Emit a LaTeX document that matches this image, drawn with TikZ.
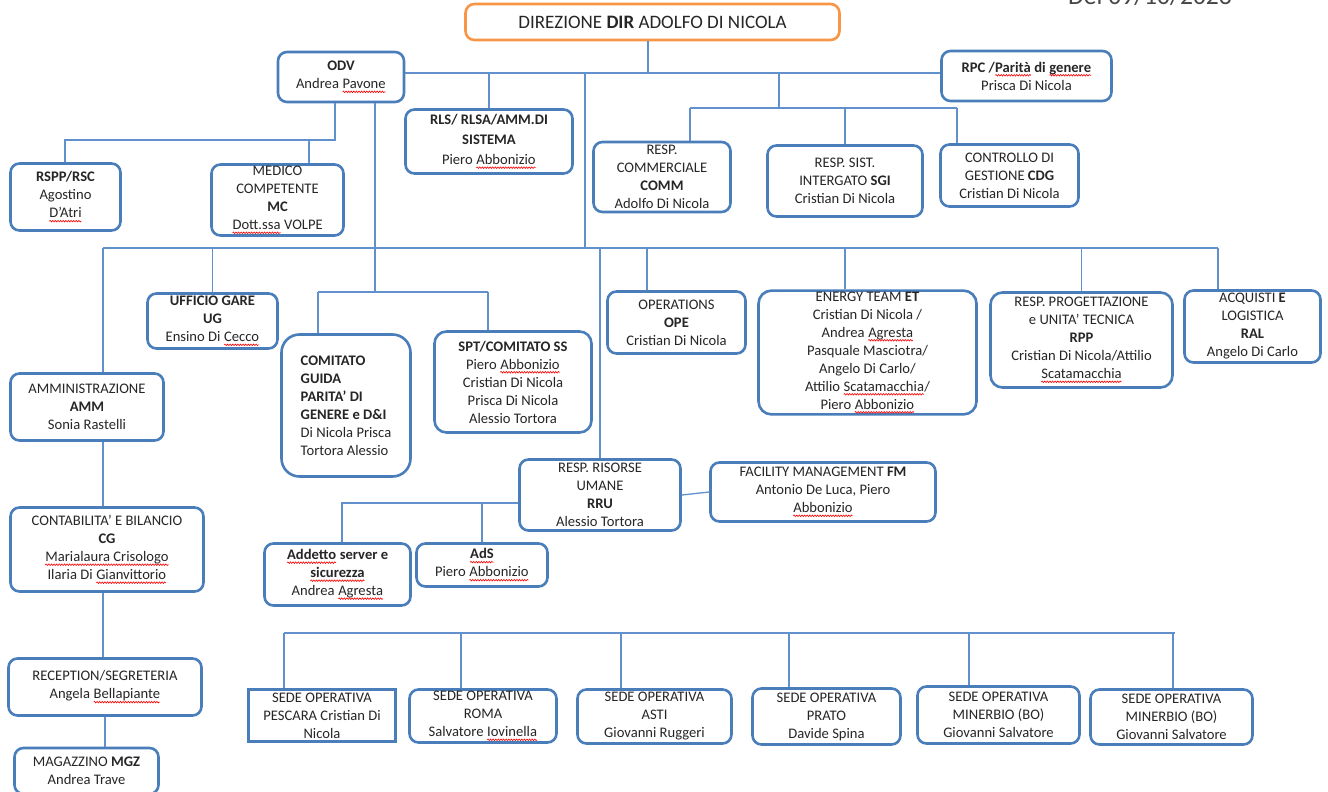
\documentclass[tikz,border=0pt]{standalone}
\usepackage{fontspec}
\setmainfont{Carlito}
\usepackage{tikz}
\usetikzlibrary{positioning, decorations.pathmorphing}

\definecolor{boxblue}{HTML}{4A7EBB}
\definecolor{linkblue}{HTML}{6290CC}
\definecolor{dirorange}{HTML}{F79646}
\definecolor{txt}{HTML}{262626}
% red wavy spell-check underline
\newcommand\sq[1]{\tikz[baseline=(sqw.base), x=1pt, y=1pt]{%
    \node[draw=none, fill=none, shape=rectangle, inner sep=0pt, outer sep=0pt,
          minimum width=0pt, minimum height=0pt, anchor=base, text=txt] (sqw) {#1};%
    \draw[red, line width=0.6pt, sharp corners, decorate,
          decoration={snake, amplitude=0.8pt, segment length=2.6pt}]
        ([yshift=-3.2pt]sqw.base west) -- ([yshift=-3.2pt]sqw.base east);}}

\begin{document}
\begin{tikzpicture}[
    % GLOBAL CFG
    x=1pt, y=-1pt,
    font=\fontsize{14.6}{18}\selectfont,
    % Styles
    unit/.style={% For the organisation boxes
        rectangle,
        draw=boxblue,
        line width=2.6pt,
        rounded corners=9pt,
        fill=white,
        text=txt,
        align=center,
        inner sep=1pt,
        },
    sz/.style 2 args={% size of a box
        minimum width=#1pt,
        minimum height=#2pt,
        },
    head/.style={% For the direction box
        unit,
        draw=dirorange,
        font=\fontsize{19}{22}\selectfont,
        },
    link/.style={% For the connectors
        draw=linkblue,
        line width=1.3pt,
        },
    ]

    \useasboundingbox (0,0) rectangle (1328,792);

    % Date in the corner
    \node[anchor=base west, text=txt!85, font=\fontsize{25.6}{28}\selectfont, inner sep=0pt] (data) at (1068,5) {Del 09/10/2023};

    % Direction and staff
    \node [head, sz={374}{36}] (dir) at (652.5,22) {DIREZIONE \textbf{DIR} ADOLFO DI NICOLA};
    \node [unit, sz={126}{50}] (odv) at (341,77) {\textbf{ODV}\\Andrea \sq{Pavone}};
    \node [unit, sz={170}{50}] (rpc) at (1026.5,76) {\textbf{RPC /\sq{Parità} di \sq{genere}}\\Prisca Di Nicola};
    \node [unit, sz={167}{64}] (rls) at (489,141.5) {\textbf{RLS/ RLSA/AMM.DI}\\[2pt]\textbf{SISTEMA}\\[2pt]Piero \sq{Abbonizio}};

    % Under RPC
    \node [unit, sz={137}{70}] (comm) at (662,177) {RESP.\\COMMERCIALE\\\textbf{COMM}\\Adolfo Di Nicola};
    \node [unit, sz={155}{71}] (sgi) at (845,181) {RESP. SIST.\\INTERGATO \textbf{SGI}\\Cristian Di Nicola};
    \node [unit, sz={138}{62}] (cdg) at (1009.5,175.5) {CONTROLLO DI\\GESTIONE \textbf{CDG}\\Cristian Di Nicola};

    % Under ODV
    \node [unit, sz={110}{67}] (rspp) at (65.5,197) {\textbf{RSPP/RSC}\\Agostino\\\sq{D’Atri}};
    \node [unit, sz={132}{71}] (mc) at (277.5,200) {MEDICO\\COMPETENTE\\\textbf{MC}\\\sq{Dott.ssa} VOLPE};

    % Second row
    \node [unit, sz={130}{55}] (ug) at (212.5,321) {\textbf{UFFICIO GARE}\\\textbf{UG}\\Ensino Di \sq{Cecco}};
    \node [unit, sz={129}{142}, align=left, rounded corners=18pt] (cgp) at (346,405.5) {\textbf{COMITATO}\\\textbf{GUIDA}\\\textbf{PARITA’ DI}\\\textbf{GENERE e D\&I}\\Di Nicola Prisca\\Tortora Alessio};
    \node [unit, sz={157}{101}, rounded corners=12pt] (spt) at (513,382) {\textbf{SPT/COMITATO SS}\\Piero \sq{Abbonizio}\\Cristian Di Nicola\\Prisca Di Nicola\\Alessio Tortora};
    \node [unit, sz={138}{62}] (ope) at (676.5,322.5) {OPERATIONS\\\textbf{OPE}\\Cristian Di Nicola};
    \node [unit, sz={218}{122}, rounded corners=13pt] (et) at (867.5,352.5) {ENERGY TEAM \textbf{ET}\\Cristian Di Nicola /\\Andrea \sq{Agresta}\\Pasquale Masciotra/\\Angelo Di Carlo/\\Attilio \sq{Scatamacchia}/\\Piero \sq{Abbonizio}};
    \node [unit, sz={182}{95}, rounded corners=12pt] (rpp) at (1081.5,340) {RESP. PROGETTAZIONE\\e UNITA’ TECNICA\\\textbf{RPP}\\Cristian Di Nicola/Attilio\\\sq{Scatamacchia}};
    \node [unit, sz={136}{72}] (ral) at (1252.5,326.5) {ACQUISTI \textbf{E}\\LOGISTICA\\\textbf{RAL}\\Angelo Di Carlo};

    % Left column
    \node [unit, sz={153}{67}] (amm) at (87,407) {AMMINISTRAZIONE\\\textbf{AMM}\\Sonia Rastelli};
    \node [unit, sz={193}{84}] (cg) at (107,549.5) {CONTABILITA’ E BILANCIO\\\textbf{CG}\\\sq{Marialaura Crisologo}\\Ilaria Di \sq{Gianvittorio}};
    \node [unit, sz={193}{57}] (rec) at (105,687) {RECEPTION/SEGRETERIA\\Angela \sq{Bellapiante}};
    \node [unit, sz={144}{46}] (mgz) at (86.5,771) {MAGAZZINO \textbf{MGZ}\\Andrea Trave};

    % Human resources
    \node [unit, sz={161}{71}] (rru) at (600,495) {RESP. RISORSE\\UMANE\\\textbf{RRU}\\Alessio Tortora};
    \node [unit, sz={225}{59}] (fm) at (823,492) {FACILITY MANAGEMENT \textbf{FM}\\Antonio De Luca, Piero\\\sq{Abbonizio}};
    \node [unit, sz={146}{62}] (ads1) at (337.5,574.5) {\textbf{\sq{Addetto} server e}\\\textbf{\sq{sicurezza}}\\Andrea \sq{Agresta}};
    \node [unit, sz={131}{43}] (ads) at (482,565) {\textbf{\sq{AdS}}\\Piero \sq{Abbonizio}};

    % Operating sites
    \node [unit, sz={147}{52}, sharp corners] (pe) at (322,715.5) {SEDE OPERATIVA\\PESCARA Cristian Di\\Nicola};
    \node [unit, sz={147}{53}] (rm) at (483,716) {SEDE OPERATIVA\\ROMA\\Salvatore \sq{Iovinella}};
    \node [unit, sz={154}{54}] (at) at (654.5,716.5) {SEDE OPERATIVA\\ASTI\\Giovanni Ruggeri};
    \node [unit, sz={148}{56}] (pr) at (826.5,716.5) {SEDE OPERATIVA\\PRATO\\Davide Spina};
    \node [unit, sz={162}{57}] (mb1) at (998.5,715) {SEDE OPERATIVA\\MINERBIO (BO)\\Giovanni Salvatore};
    \node [unit, sz={162}{55}] (mb2) at (1171.5,717) {SEDE OPERATIVA\\MINERBIO (BO)\\Giovanni Salvatore};

% Connecting all
    % top bar
    \coordinate (tbar) at (648,73);
    \coordinate (tdrop) at (585,73);
    \coordinate (rdrop) at (779,73);
    \draw [link] (tbar |- dir.south) -- (tbar);
    \draw [link] (odv.east |- tbar) -- (rpc.west |- tbar);
    \draw [link] (rls.north) -- (rls.north |- tbar);

    % RPC group
    \coordinate (rbarL) at (690,108);
    \coordinate (rbarR) at (957,108);
    \draw [link] (rdrop) -- (rdrop |- rbarL);
    \draw [link] (rbarL) -- (rbarR);
    \draw [link] (rbarL) -- (rbarL |- comm.north);
    \draw [link] (sgi.north) -- (sgi.north |- rbarL);
    \draw [link] (rbarR) -- (rbarR |- cdg.north);

    % ODV group
    \coordinate (obarL) at (65,140);
    \coordinate (obarR) at (335,140);
    \coordinate (mcs) at (309,140);
    \draw [link] (obarR |- odv.south) -- (obarR) -- (obarL) -- (obarL |- rspp.north);
    \draw [link] (mcs) -- (mcs |- mc.north);

    % main bar
    \coordinate (mbarL) at (103,248);
    \coordinate (mbarR) at (1218,248);
    \draw [link] (mbarL) -- (mbarR);
    \draw [link] (tdrop) -- (tdrop |- mbarL);
    \draw [link] (mbarL) -- (mbarL |- amm.north);
    \draw [link] (ug.north) -- (ug.north |- mbarL);
    \draw [link] (rru.north) -- (rru.north |- mbarL);
    \draw [link] (rpp.north) -- (rpp.north |- mbarL);
    \draw [link] (mbarR) -- (mbarR |- ral.north);
    \foreach \sx/\nd in {647/ope, 845/et}
        \draw [link] (\sx,248) -- (\sx,248 |- \nd.north);

    % comitati
    \coordinate (odrop) at (375,292);
    \coordinate (cbarL) at (318,292);
    \coordinate (cbarR) at (488,292);
    \draw [link] (odrop |- odv.south) -- (odrop);
    \draw [link] (cbarL) -- (cbarR);
    \draw [link] (cbarL) -- (cbarL |- cgp.north);
    \draw [link] (cbarR) -- (cbarR |- spt.north);

    % left column
    \draw [link] (amm.south -| mbarL) -- (cg.north -| mbarL);
    \draw [link] (cg.south -| mbarL) -- (rec.north -| mbarL);
    \draw [link] (rec.south) -- (rec.south |- mgz.north);

    % RRU group
    \coordinate (hbarL) at (342,503);
    \draw [link] (rru.west |- hbarL) -- (hbarL) -- (hbarL |- ads1.north);
    \draw [link] (ads.north) -- (ads.north |- hbarL);
    \draw [link] (rru.east) -- (fm.west);

    % operating sites
    \coordinate (sbarL) at (284,633);
    \coordinate (sbarR) at (1175,633);
    \draw [link] (sbarL) -- (sbarR);
    \foreach \sx/\nd in {284/pe, 461/rm, 621/at, 789/pr, 969/mb1, 1173/mb2}
        \draw [link] (\sx,633) -- (\sx,633 |- \nd.north);

\end{tikzpicture}
\end{document}
